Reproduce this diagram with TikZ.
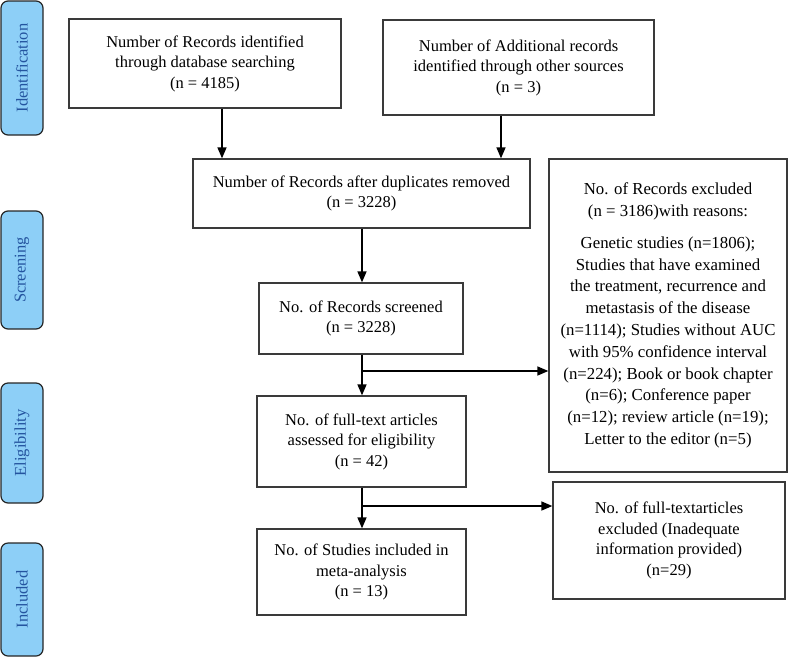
\documentclass[tikz,border=0pt]{standalone}
\usepackage{fontspec}
\setmainfont{Liberation Serif}
\usetikzlibrary{arrows.meta}
\definecolor{sidefill}{HTML}{8DCFF7}
\definecolor{sidetext}{HTML}{24549F}
\definecolor{boxline}{HTML}{3A3A3A}
\tikzset{
  flowbox/.style={draw=boxline, line width=1.3pt, fill=white, align=center, inner sep=2pt,
    font=\fontsize{16.5}{20.5}\selectfont},
  sidebox/.style={draw=black!85, line width=1.2pt, fill=sidefill, rounded corners=7pt,
    rotate=90, text=sidetext, font=\fontsize{16.5}{19}\selectfont, minimum height=42pt, inner sep=0pt},
  arr/.style={draw=black, line width=1.6pt, -{Triangle[length=11pt,width=9pt]}},
}
\begin{document}
\begin{tikzpicture}[x=1pt,y=-1pt]
\useasboundingbox (0,0) rectangle (789,657);
% side labels
\node[sidebox, minimum width=134pt] (sid) at (22,68) {Identification};
\node[sidebox, minimum width=118pt] (ssc) at (22,270) {Screening};
\node[sidebox, minimum width=120pt] (sel) at (22,443) {Eligibility};
\node[sidebox, minimum width=113pt] (sin) at (22,599.5) {Included};
% boxes
\node[flowbox, minimum width=272pt, minimum height=89pt] (b1) at (205,63.5)
  {Number of Records identified\\through database searching\\(n = 4185)};
\node[flowbox, minimum width=271pt, minimum height=95pt] (b2) at (518.5,67.5)
  {Number of Additional records\\identified through other sources\\(n = 3)};
\node[flowbox, minimum width=337pt, minimum height=69pt] (b3) at (361.5,193.5)
  {Number of Records after duplicates removed\\(n = 3228)};
\node[flowbox, minimum width=238pt, minimum height=313pt, font=\fontsize{16.8}{21.8}\selectfont] (ex) at (668,315.5)
  {No. of Records excluded\\(n = 3186)with reasons:\\[10pt]
   Genetic studies (n=1806);\\Studies that have examined\\the treatment, recurrence and\\metastasis of the disease\\(n=1114); Studies without AUC\\with 95\% confidence interval\\(n=224); Book or book chapter\\(n=6); Conference paper\\(n=12); review article (n=19);\\Letter to the editor (n=5)};
\node[flowbox, minimum width=204pt, minimum height=71pt] (b4) at (361,318.5)
  {No. of Records screened\\(n = 3228)};
\node[flowbox, minimum width=209pt, minimum height=91pt] (b5) at (361.5,441.5)
  {No. of full-text articles\\assessed for eligibility\\(n = 42)};
\node[flowbox, minimum width=209pt, minimum height=86pt] (b6) at (361.5,572)
  {No. of Studies included in\\meta-analysis\\(n = 13)};
\node[flowbox, minimum width=232pt, minimum height=117pt] (b7) at (669,540.5)
  {No. of full-textarticles\\excluded (Inadequate\\information provided)\\(n=29)};
% connectors
\coordinate (c1) at (222,0);
\coordinate (c2) at (501,0);
\coordinate (cm) at (362,0);
\coordinate (j1) at (362,371);
\coordinate (j2) at (362,506);
\draw[arr] (b1.south -| c1) -- (b3.north -| c1);
\draw[arr] (b2.south -| c2) -- (b3.north -| c2);
\draw[arr] (b3.south -| cm) -- (b4.north -| cm);
\draw[arr] (b4.south -| cm) -- (b5.north -| cm);
\draw[arr] (j1) -- (j1 -| ex.west);
\draw[arr] (b5.south -| cm) -- (b6.north -| cm);
\draw[arr] (j2) -- (j2 -| b7.west);
\end{tikzpicture}
\end{document}
